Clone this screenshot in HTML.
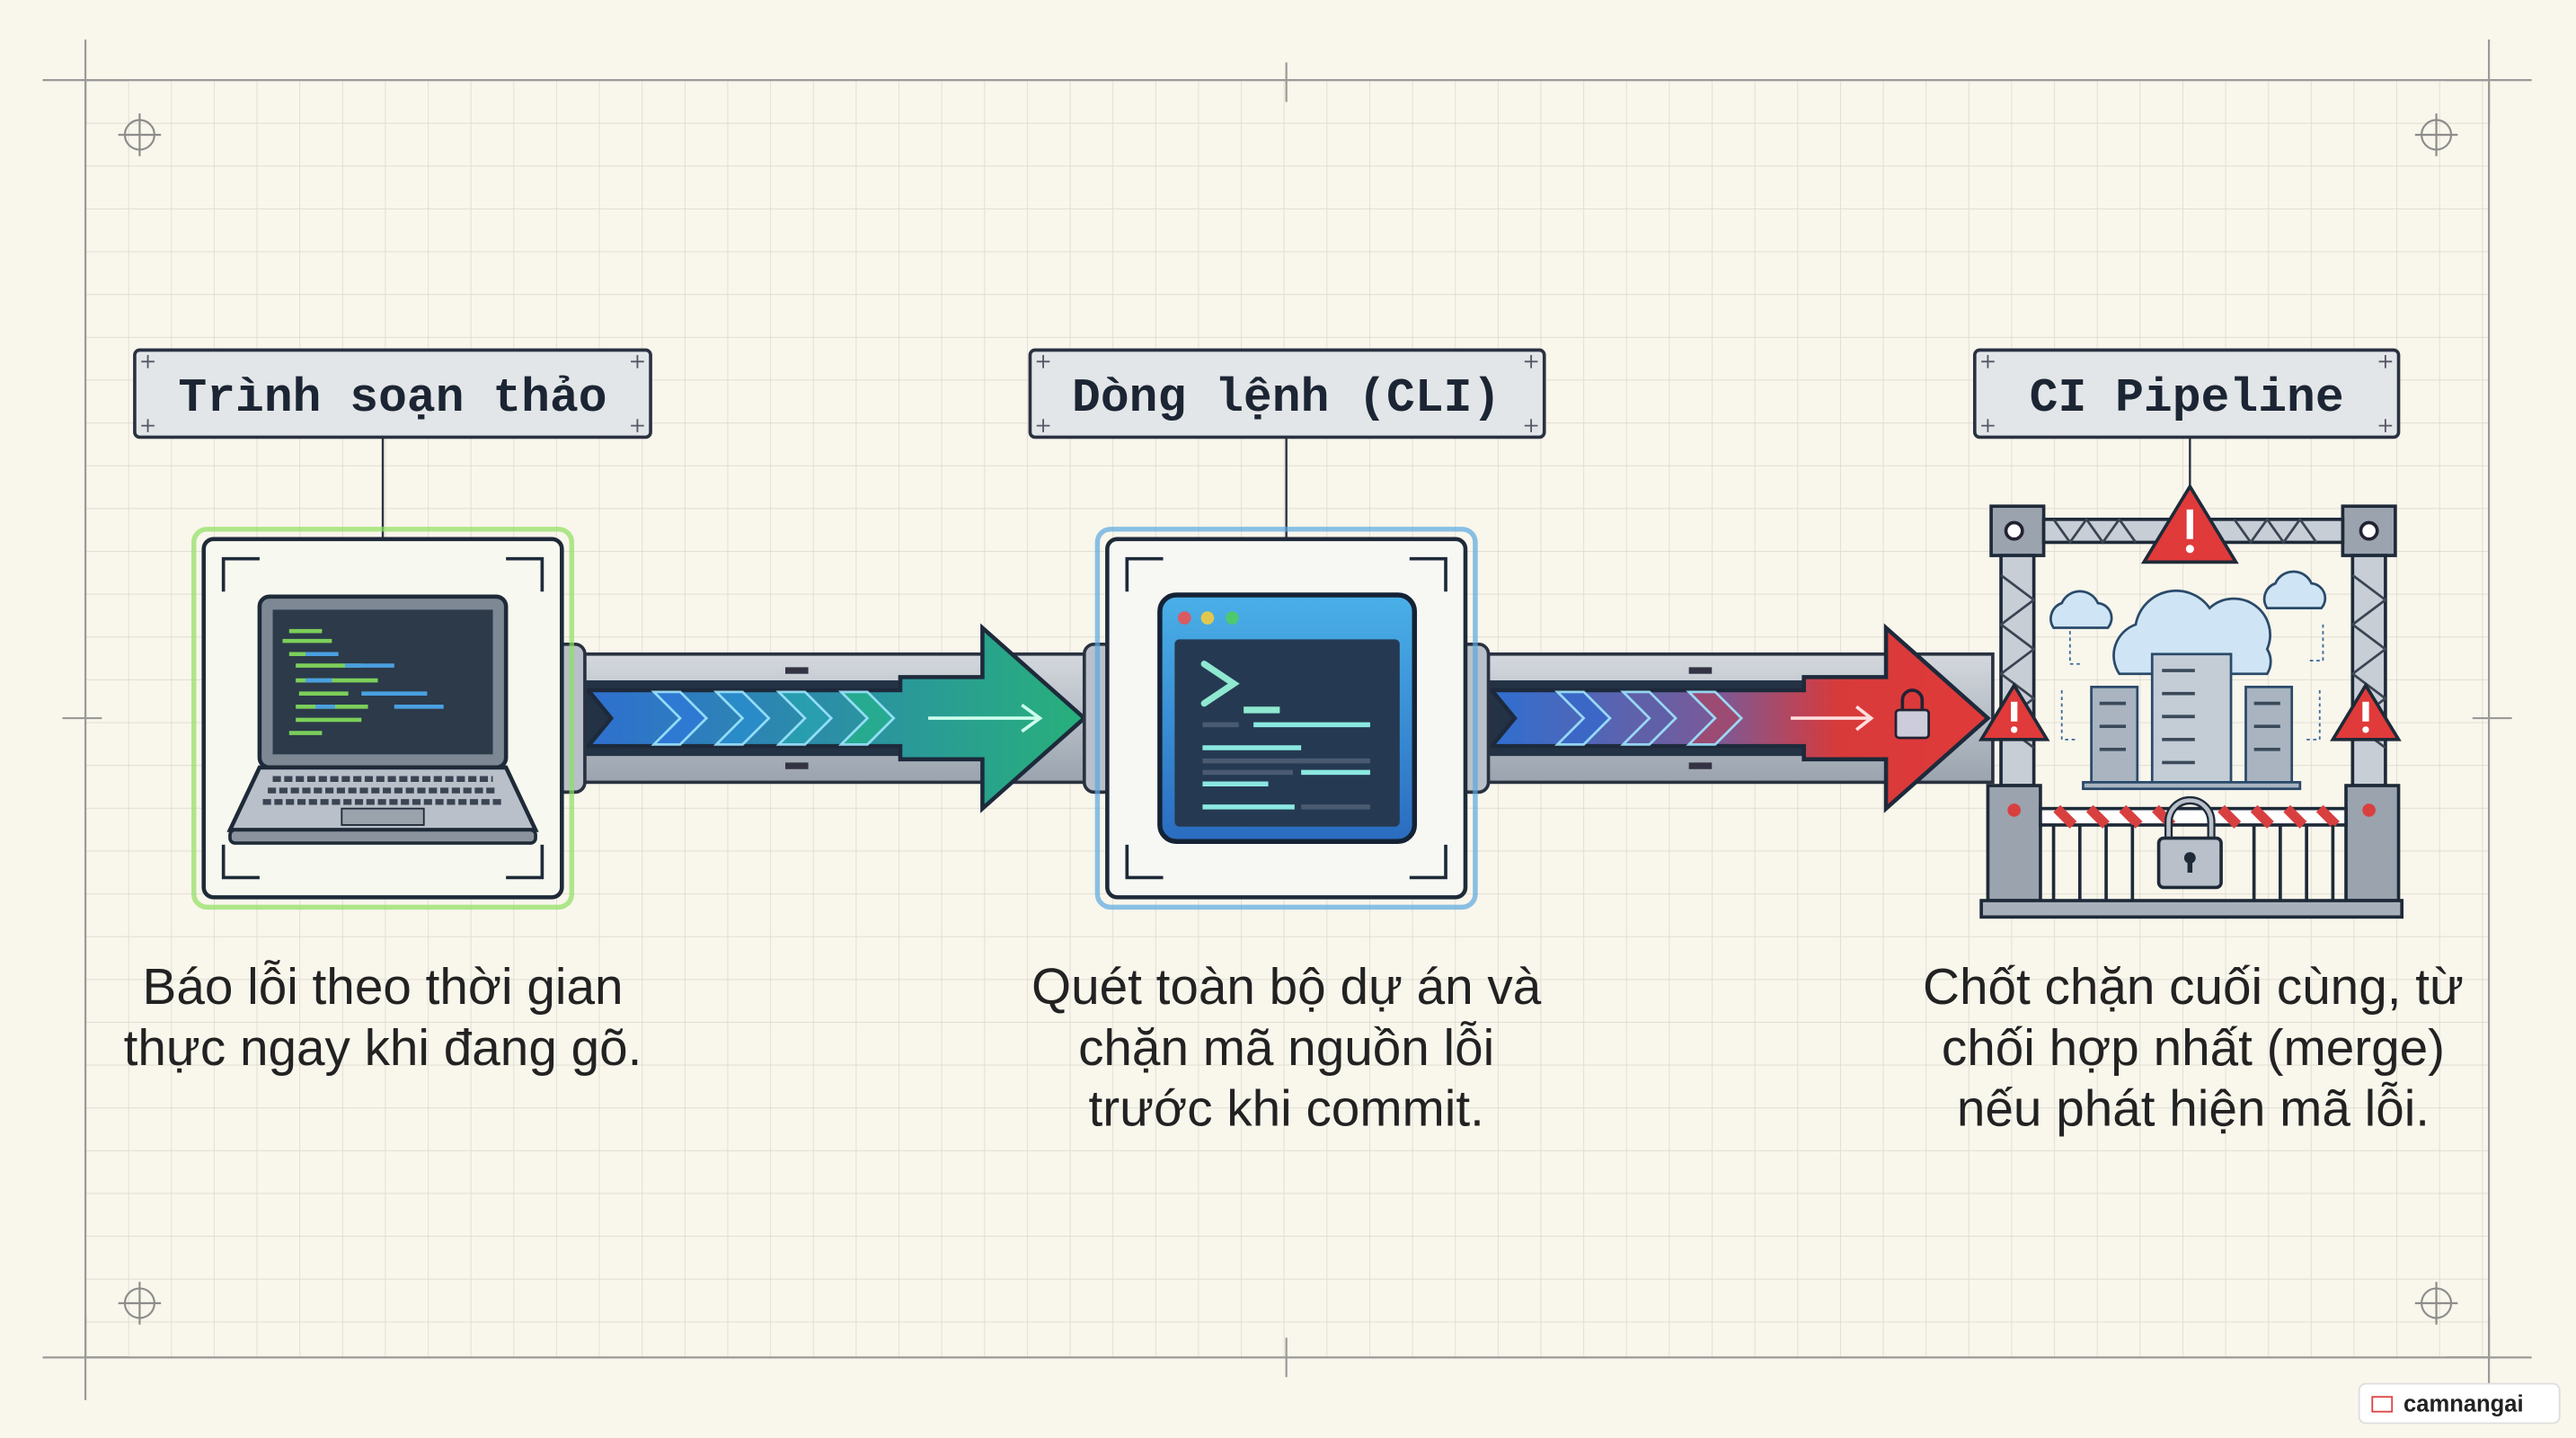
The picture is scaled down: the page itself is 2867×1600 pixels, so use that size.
<!DOCTYPE html>
<html><head><meta charset="utf-8"><style>
html,body{margin:0;padding:0;background:#f9f6ec;}
svg{display:block;}
.lbl{font-family:"Liberation Mono",monospace;font-weight:bold;font-size:29px;fill:#1c2533;}
.desc{font-family:"Liberation Sans",sans-serif;font-size:31px;fill:#222;}
</style></head><body>
<svg width="2867" height="1600" viewBox="0 0 1568 875" xmlns="http://www.w3.org/2000/svg">
<defs>
<pattern id="g" x="52" y="48.7" width="26.05" height="26.05" patternUnits="userSpaceOnUse">
<path d="M0 0H26.05M0 0V26.05" stroke="#dedad0" stroke-width="0.9" fill="none"/>
</pattern>
<linearGradient id="a1" x1="0" x2="1"><stop offset="0" stop-color="#2f6fd0"/><stop offset="1" stop-color="#27b07a"/></linearGradient>
<linearGradient id="a2" x1="0" x2="1"><stop offset="0" stop-color="#2f6fd0"/><stop offset="0.45" stop-color="#7a5a98"/><stop offset="0.7" stop-color="#d83a3a"/><stop offset="1" stop-color="#e03a3a"/></linearGradient>
<linearGradient id="scr" x1="0" y1="0" x2="0" y2="1"><stop offset="0" stop-color="#4ab0e8"/><stop offset="1" stop-color="#2a6cc0"/></linearGradient>
<linearGradient id="pipe" x1="0" y1="0" x2="0" y2="1"><stop offset="0" stop-color="#d4d8de"/><stop offset="1" stop-color="#9aa3ae"/></linearGradient>
</defs>
<rect width="1568" height="875" fill="#f9f6ec"/>
<rect x="52" y="48.7" width="1463" height="777.5" fill="url(#g)"/>
<g stroke="#9a9a98" stroke-width="1.2" fill="none">
<path d="M52 48.7H1515M52 826H1515M52 48.7V826M1515 48.7V826"/>
<path d="M52 24V76M26 48.7H78M1515 24V76M1489 48.7H1541M52 800V852M26 826H78M1515 800V852M1489 826H1541"/>
<path d="M783 38V62M783 814V838M38 437H62M1505 437H1529"/>
<g stroke="#8d8d8b"><circle cx="85" cy="82" r="9"/><path d="M72 82H98M85 69V95"/>
<circle cx="1483" cy="82" r="9"/><path d="M1470 82H1496M1483 69V95"/>
<circle cx="85" cy="793" r="9"/><path d="M72 793H98M85 780V806"/>
<circle cx="1483" cy="793" r="9"/><path d="M1470 793H1496M1483 780V806"/></g>
</g>
<g stroke="#2a3140" stroke-width="2" fill="#e3e6e8">
<rect x="82" y="213" width="314" height="53" rx="3"/>
<rect x="627" y="213" width="313" height="53" rx="3"/>
<rect x="1202" y="213" width="258" height="53" rx="3"/>
</g>
<g stroke="#556" stroke-width="1" fill="none">
<path d="M86 220h8M90 216v8M384 220h8M388 216v8M86 259h8M90 255v8M384 259h8M388 255v8"/>
<path d="M631 220h8M635 216v8M928 220h8M932 216v8M631 259h8M635 255v8M928 259h8M932 255v8"/>
<path d="M1206 220h8M1210 216v8M1448 220h8M1452 216v8M1206 259h8M1210 255v8M1448 259h8M1452 255v8"/>
</g>
<text class="lbl" x="239" y="250" text-anchor="middle">Trình soạn thảo</text>
<text class="lbl" x="783" y="250" text-anchor="middle">Dòng lệnh (CLI)</text>
<text class="lbl" x="1331" y="250" text-anchor="middle">CI Pipeline</text>
<g stroke="#2a3140" stroke-width="1.3"><path d="M233 266V328M783 266V328M1333 266V298"/></g>
<g>
<rect x="343" y="398" width="320" height="78" fill="url(#pipe)" stroke="#2a3140" stroke-width="2"/>
<rect x="893" y="398" width="320" height="78" fill="url(#pipe)" stroke="#2a3140" stroke-width="2"/>
<rect x="356" y="414" width="250" height="46" fill="#243245"/>
<rect x="906" y="414" width="250" height="46" fill="#243245"/>
<path d="M358 420h190v-8h50v-30l62 55l-62 55v-30h-50v-8h-190l14-17z" fill="url(#a1)" stroke="#1d2a3b" stroke-width="2.5"/>
<path d="M908 420h190v-8h50v-30l62 55l-62 55v-30h-50v-8h-190l14-17z" fill="url(#a2)" stroke="#1d2a3b" stroke-width="2.5"/>
<g stroke="#9fe6ff" stroke-width="1.5" opacity="0.9">
<path d="M398 421h16l16 16l-16 16h-16l16-16z" fill="#2f7ad6"/>
<path d="M436 421h16l16 16l-16 16h-16l16-16z" fill="#2a8ccc"/>
<path d="M474 421h16l16 16l-16 16h-16l16-16z" fill="#28a0b0"/>
<path d="M512 421h16l16 16l-16 16h-16l16-16z" fill="#26ae90"/>
<path d="M948 421h16l16 16l-16 16h-16l16-16z" fill="#3a68c8"/>
<path d="M988 421h16l16 16l-16 16h-16l16-16z" fill="#6060a8"/>
<path d="M1028 421h16l16 16l-16 16h-16l16-16z" fill="#a04a70"/>
</g>
<path d="M565 437h68M622 429l11 8l-11 8" stroke="#cfe" stroke-width="2" fill="none"/>
<path d="M1090 437h48M1130 430l9 7l-9 7" stroke="#fdd" stroke-width="2" fill="none"/>
<rect x="1154" y="432" width="20" height="17" rx="2" fill="#ccd" stroke="#223" stroke-width="1.5"/>
<path d="M1158 432v-6a6 6 0 0 1 12 0v6" fill="none" stroke="#223" stroke-width="2"/>
<rect x="478" y="406" width="14" height="4" fill="#334"/><rect x="478" y="464" width="14" height="4" fill="#334"/>
<rect x="1028" y="406" width="14" height="4" fill="#334"/><rect x="1028" y="464" width="14" height="4" fill="#334"/>
<rect x="338" y="392" width="18" height="90" rx="6" fill="#b9c0c9" stroke="#2a3140" stroke-width="2"/>
<rect x="660" y="392" width="18" height="90" rx="6" fill="#b9c0c9" stroke="#2a3140" stroke-width="2"/>
<rect x="888" y="392" width="18" height="90" rx="6" fill="#b9c0c9" stroke="#2a3140" stroke-width="2"/>
</g>
<rect x="118" y="322" width="230" height="230" rx="8" fill="none" stroke="#8fe060" stroke-width="3" opacity="0.7"/>
<rect x="124" y="328" width="218" height="218" rx="6" fill="#f7f8ef" stroke="#1e2a38" stroke-width="2.5"/>
<g stroke="#1e2a38" stroke-width="2" fill="none"><path d="M136 360v-20h22M330 360v-20h-22M136 514v20h22M330 514v20h-22"/></g>
<rect x="158" y="363" width="150" height="104" rx="6" fill="#7e8894" stroke="#1e2a38" stroke-width="2.5"/>
<rect x="166" y="371" width="134" height="88" fill="#2c3a4a"/>
<g stroke-width="2.5"><path d="M176 384h20M172 390h30M176 398h12h10M180 405h40M180 414h50M182 422h30M180 430h44M180 438h40M176 446h20" stroke="#7ccf5a"/>
<path d="M186 398h20M186 414h16M192 430h12M210 405h30M240 430h30M220 422h40" stroke="#4aa0e0"/></g>
<path d="M158 467h150l18 38h-186z" fill="#b9c0c9" stroke="#1e2a38" stroke-width="2.5"/>
<rect x="140" y="505" width="186" height="8" rx="3" fill="#8b939e" stroke="#1e2a38" stroke-width="2"/>
<path d="M166 474h134M163 481h140M160 488h146" stroke="#3a4452" stroke-width="3.5" stroke-dasharray="5 2"/>
<rect x="208" y="492" width="50" height="10" fill="#9aa2ac" stroke="#1e2a38" stroke-width="1"/>
<rect x="668" y="322" width="230" height="230" rx="8" fill="none" stroke="#5aa8e0" stroke-width="3" opacity="0.7"/>
<rect x="674" y="328" width="218" height="218" rx="6" fill="#f7f8f4" stroke="#1e2a38" stroke-width="2.5"/>
<g stroke="#1e2a38" stroke-width="2" fill="none"><path d="M686 360v-20h22M880 360v-20h-22M686 514v20h22M880 514v20h-22"/></g>
<rect x="706" y="362" width="155" height="150" rx="10" fill="url(#scr)" stroke="#152235" stroke-width="3"/>
<circle cx="721" cy="376" r="4" fill="#d95a60"/><circle cx="735" cy="376" r="4" fill="#e0c850"/><circle cx="750" cy="376" r="4" fill="#50c870"/>
<rect x="715" y="389" width="137" height="114" rx="3" fill="#253a52"/>
<path d="M733 404l18 12l-18 12" stroke="#8fe8d0" stroke-width="4" fill="none" stroke-linecap="round"/>
<path d="M757 432h22" stroke="#8fe8d0" stroke-width="4"/>
<g stroke-width="3"><path d="M763 441h71M732 455h60M792 470h42M732 477h40M732 491h56" stroke="#8ae8e0"/><path d="M732 441h22M732 463h102M732 470h55M792 491h42" stroke="#4a5a70"/></g>
<g stroke="#1e2a38" stroke-width="2">
<rect x="1212" y="308" width="32" height="30" fill="#9aa3ae"/>
<rect x="1426" y="308" width="32" height="30" fill="#9aa3ae"/>
<rect x="1244" y="316" width="182" height="14" fill="#c8ced6"/>
<rect x="1218" y="338" width="20" height="140" fill="#c8ced6"/>
<rect x="1432" y="338" width="20" height="140" fill="#c8ced6"/>
<rect x="1210" y="478" width="32" height="70" fill="#9aa3ae"/>
<rect x="1428" y="478" width="32" height="70" fill="#9aa3ae"/>
<rect x="1206" y="548" width="256" height="10" fill="#a7b0ba"/>
<rect x="1242" y="492" width="186" height="10" fill="#fff"/>
</g>
<path d="M1250 316l10 14l10-14l10 14l10-14l10 14M1360 316l10 14l10-14l10 14l10-14l10 14M1218 350l20 15l-20 15l20 15l-20 15l20 15l-20 15l20 15M1432 350l20 15l-20 15l20 15l-20 15l20 15l-20 15l20 15" stroke="#3a4452" stroke-width="1.5" fill="none"/>
<path d="M1252 492l10 10M1272 492l10 10M1292 492l10 10M1312 492l10 10M1352 492l10 10M1372 492l10 10M1392 492l10 10M1412 492l10 10" stroke="#d84040" stroke-width="6"/>
<g stroke="#1e2a38" stroke-width="2"><path d="M1250 502v46M1266 502v46M1282 502v46M1298 502v46M1372 502v46M1388 502v46M1404 502v46M1420 502v46"/></g>
<circle cx="1226" cy="323" r="5" fill="#fff" stroke="#223" stroke-width="2"/><circle cx="1442" cy="323" r="5" fill="#fff" stroke="#223" stroke-width="2"/>
<circle cx="1226" cy="493" r="4" fill="#d84040"/><circle cx="1442" cy="493" r="4" fill="#d84040"/>
<g fill="#cfe4f4" stroke="#2a4a6a" stroke-width="1.5">
<path d="M1290 410a20 20 0 0 1 10-30a25 25 0 0 1 45-10a22 22 0 0 1 35 25a14 14 0 0 1 0 15z"/>
<path d="M1250 382a10 10 0 0 1 5-15a12 12 0 0 1 22 0a9 9 0 0 1 6 15z"/>
<path d="M1380 370a10 10 0 0 1 5-15a12 12 0 0 1 22 0a9 9 0 0 1 6 15z"/>
</g>
<g stroke="#2a4a6a" stroke-width="1.5" fill="#a9b4c0">
<rect x="1273" y="418" width="28" height="58"/><rect x="1367" y="418" width="28" height="58"/>
<rect x="1310" y="398" width="48" height="78" fill="#c4ccd6"/>
<rect x="1268" y="476" width="132" height="4"/>
</g>
<path d="M1316 408h20M1316 422h20M1316 436h20M1316 450h20M1316 464h20M1278 428h16M1278 442h16M1278 456h16M1372 428h16M1372 442h16M1372 456h16" stroke="#3a4a5a" stroke-width="2"/>
<path d="M1260 384v20h8M1414 380v22h-8M1255 420v30h10M1412 420v30h-10" stroke="#3a6a9a" stroke-width="1" stroke-dasharray="2 2" fill="none"/>
<g stroke="#1e2a38" stroke-width="2" fill="#e03a3a">
<path d="M1333 296l-28 46h56z"/><path d="M1226 417l-20 33h40z"/><path d="M1440 417l-20 33h40z"/>
</g>
<g fill="#fff"><rect x="1331" y="310" width="4" height="18"/><circle cx="1333" cy="334" r="2.5"/>
<rect x="1224" y="427" width="4" height="12"/><circle cx="1226" cy="444" r="2"/>
<rect x="1438" y="427" width="4" height="12"/><circle cx="1440" cy="444" r="2"/></g>
<path d="M1320 512v-12a13 13 0 0 1 26 0v12" fill="none" stroke="#1e2a38" stroke-width="5"/>
<path d="M1320 512v-12a13 13 0 0 1 26 0v12" fill="none" stroke="#b9c0c9" stroke-width="2.5"/>
<rect x="1314" y="510" width="38" height="30" rx="3" fill="#b9c0c9" stroke="#1e2a38" stroke-width="2"/>
<circle cx="1333" cy="522" r="3.5" fill="#1e2a38"/><rect x="1331.5" y="522" width="3" height="9" fill="#1e2a38"/>
<text class="desc" text-anchor="middle"><tspan x="233" y="611">Báo lỗi theo thời gian</tspan><tspan x="233" y="648">thực ngay khi đang gõ.</tspan></text>
<text class="desc" text-anchor="middle"><tspan x="783" y="611">Quét toàn bộ dự án và</tspan><tspan x="783" y="648">chặn mã nguồn lỗi</tspan><tspan x="783" y="685">trước khi commit.</tspan></text>
<text class="desc" text-anchor="middle"><tspan x="1335" y="611">Chốt chặn cuối cùng, từ</tspan><tspan x="1335" y="648">chối hợp nhất (merge)</tspan><tspan x="1335" y="685">nếu phát hiện mã lỗi.</tspan></text>
<rect x="1436" y="842" width="122" height="24" rx="4" fill="#fff" stroke="#ddd"/>
<rect x="1444" y="850" width="12" height="9" fill="none" stroke="#d44" stroke-width="1"/>
<text x="1463" y="859" font-family="Liberation Sans,sans-serif" font-size="14" font-weight="bold" fill="#222">camnangai</text>
</svg>
</body></html>
